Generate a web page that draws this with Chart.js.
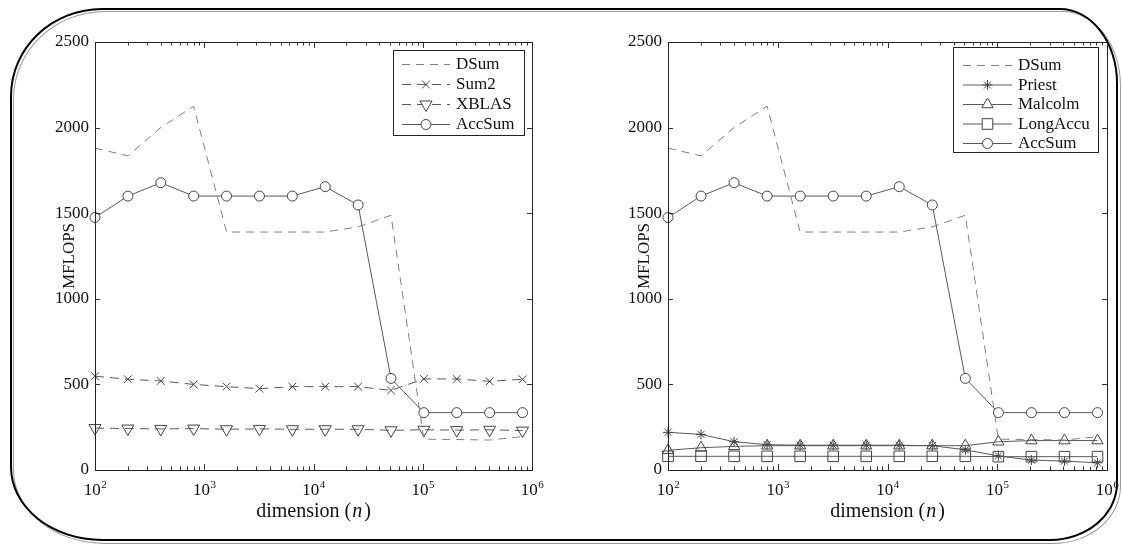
<!DOCTYPE html>
<html><head><meta charset="utf-8">
<script src="https://cdn.jsdelivr.net/npm/chart.js@4.4.1/dist/chart.umd.min.js"></script>
<style>
html,body{margin:0;padding:0;background:#fff;}
#wrap{position:relative;width:1122px;height:544px;overflow:hidden;background:#fff;}
.frame{position:absolute;box-sizing:border-box;border-radius:92px 58px 68px 92px / 88px 75px 58px 74px;}
#f1{left:13px;top:11px;width:1108px;height:533px;border:1.5px solid #9a9a9a;}
#f2{left:10px;top:8px;width:1108px;height:533px;border:2px solid #000;}
canvas{position:absolute;top:0;}
#c1{left:0}
#c2{left:561px}
</style></head>
<body><div id="wrap"><div class="frame" id="f1"></div><div class="frame" id="f2"></div>
<canvas id="c1" width="561" height="544"></canvas><canvas id="c2" width="561" height="544"></canvas></div>
<script>
// ---- data ----
const dimension = [100, 200, 400, 800, 1600, 3200, 6400, 12800, 25600, 51200, 102400, 204800, 409600, 819200];
const DSum     = [1880, 1835, 2000, 2125, 1390, 1390, 1390, 1390, 1420, 1488, 180, 178, 175, 195];
const Sum2     = [548, 530, 520, 500, 487, 475, 487, 487, 487, 465, 532, 532, 518, 530];
const XBLAS    = [245, 242, 240, 242, 238, 240, 238, 238, 238, 232, 235, 233, 235, 230];
const AccSum   = [1475, 1600, 1678, 1600, 1600, 1600, 1600, 1655, 1548, 535, 335, 335, 335, 335];
const Priest   = [220, 208, 165, 148, 145, 145, 145, 145, 142, 118, 82, 58, 52, 42];
const Malcolm  = [115, 130, 138, 142, 142, 142, 142, 142, 142, 142, 165, 172, 172, 172];
const LongAccu = [80, 80, 80, 80, 80, 80, 80, 80, 80, 80, 78, 78, 78, 78];
const xTickExponents = [2, 3, 4, 5, 6];
const yTicks = [0, 500, 1000, 1500, 2000, 2500];
const yTitle = 'MFLOPS';
const xTitleParts = ['dimension (', 'n', ')'];

const SERIF = '"Liberation Serif", "Times New Roman", serif';
const LINE = '#5a5a5a', MARK = '#444';

function pts(arr){ return arr.map((v,i)=>({x:dimension[i], y:v})); }

function ds(label, arr, o){
  return Object.assign({
    label, data: pts(arr), borderColor: LINE, borderWidth: 1, tension: 0,
    pointRadius: 0, pointBorderColor: MARK, pointBackgroundColor: 'rgba(0,0,0,0)',
    pointBorderWidth: 1, fill: false, clip: false, borderDash: []
  }, o);
}
const DASH = [9, 6];
const dsDSum = () => ds('DSum', DSum, {borderColor:'#808080', borderDash:[8,6]});
const dsAcc  = () => ds('AccSum', AccSum, {pointStyle:'circle', pointRadius:5, pointBackgroundColor:'#fff'});

function drawMarker(ctx, style, r, rot, x, y){
  if (!style || r <= 0) return;
  const rad0 = (rot||0) * Math.PI/180;
  ctx.beginPath();
  if (style === 'circle') { ctx.arc(x, y, r, 0, Math.PI*2); ctx.fill(); ctx.stroke(); return; }
  if (style === 'triangle') {
    let a = rad0;
    ctx.moveTo(x + Math.sin(a)*r, y - Math.cos(a)*r); a += 2*Math.PI/3;
    ctx.lineTo(x + Math.sin(a)*r, y - Math.cos(a)*r); a += 2*Math.PI/3;
    ctx.lineTo(x + Math.sin(a)*r, y - Math.cos(a)*r); ctx.closePath(); ctx.fill(); ctx.stroke(); return;
  }
  if (style === 'rect') {
    const s = r * Math.SQRT1_2; ctx.rect(x - s, y - s, 2*s, 2*s); ctx.fill(); ctx.stroke(); return;
  }
  const cross = (a)=>{ for (let k=0;k<2;k++){ const b=a+k*Math.PI/2; ctx.moveTo(x+Math.cos(b)*r, y+Math.sin(b)*r); ctx.lineTo(x-Math.cos(b)*r, y-Math.sin(b)*r);} };
  if (style === 'crossRot') cross(rad0 + Math.PI/4);
  if (style === 'star') { cross(rad0); cross(rad0 + Math.PI/4); }
  ctx.stroke();
}

const decor = {
  id: 'decor',
  afterDatasetsDraw(chart, args, opts){
    const ctx = chart.ctx, a = chart.chartArea, xs = chart.scales.x, ys = chart.scales.y;
    ctx.save();
    // ticks
    ctx.strokeStyle = '#333'; ctx.lineWidth = 1;
    ctx.beginPath();
    for (let e = 2; e <= 6; e++) {
      for (let m = 1; m <= 9; m++) {
        const v = m * Math.pow(10, e);
        if (v < 100 || v > 1e6) continue;
        const px = Math.round(xs.getPixelForValue(v)) + 0.5;
        const L = (m === 1) ? 6 : 3.5;
        ctx.moveTo(px, a.bottom); ctx.lineTo(px, a.bottom - L);
        ctx.moveTo(px, a.top); ctx.lineTo(px, a.top + L);
        if (e === 6) break;
      }
    }
    yTicks.forEach(v => {
      const py = Math.round(ys.getPixelForValue(v)) + 0.5;
      ctx.moveTo(a.left, py); ctx.lineTo(a.left + 5, py);
      ctx.moveTo(a.right, py); ctx.lineTo(a.right - 5, py);
    });
    ctx.stroke();
    // frame
    ctx.strokeStyle = '#222';
    ctx.strokeRect(Math.round(a.left)+0.5, Math.round(a.top)+0.5, Math.round(a.right-a.left), Math.round(a.bottom-a.top));
    // x tick labels
    ctx.fillStyle = '#111'; ctx.textBaseline = 'alphabetic'; ctx.textAlign = 'left';
    xTickExponents.forEach(e => {
      const px = xs.getPixelForValue(Math.pow(10, e));
      ctx.font = '17px ' + SERIF; const w1 = ctx.measureText('10').width;
      ctx.font = '11px ' + SERIF; const w2 = ctx.measureText(String(e)).width;
      const x0 = px - (w1 + w2)/2;
      ctx.font = '17px ' + SERIF; ctx.fillText('10', x0, 495);
      ctx.font = '11px ' + SERIF; ctx.fillText(String(e), x0 + w1 + 0.5, 488);
    });
    // x title
    const fN = '20px ' + SERIF, fI = 'italic 20px ' + SERIF;
    ctx.font = fN; const t0 = ctx.measureText(xTitleParts[0]).width + 1, t2 = ctx.measureText(xTitleParts[2]).width;
    ctx.font = fI; const t1 = ctx.measureText(xTitleParts[1]).width + 2;
    let tx = (a.left + a.right)/2 - (t0 + t1 + t2)/2;
    ctx.font = fN; ctx.fillText(xTitleParts[0], tx, 517); tx += t0;
    ctx.font = fI; ctx.fillText(xTitleParts[1], tx, 517); tx += t1;
    ctx.font = fN; ctx.fillText(xTitleParts[2], tx, 517);
    // legend
    const L = opts;
    ctx.fillStyle = '#fff'; ctx.fillRect(L.x, L.y, L.w, L.h);
    ctx.strokeStyle = '#222'; ctx.lineWidth = 1;
    ctx.strokeRect(L.x + 0.5, L.y + 0.5, L.w, L.h);
    chart.data.datasets.forEach((d, i) => {
      const cy = L.y + L.first + i * L.step;
      ctx.strokeStyle = d.borderColor; ctx.lineWidth = 1;
      ctx.setLineDash(d.borderDash || []);
      ctx.beginPath(); ctx.moveTo(L.x + L.s0, cy + 0.5); ctx.lineTo(L.x + L.s1, cy + 0.5); ctx.stroke();
      ctx.setLineDash([]);
      ctx.strokeStyle = d.pointBorderColor; ctx.fillStyle = d.pointBackgroundColor;
      if (d.pointStyle === 'circle' || d.pointStyle === 'triangle' || d.pointStyle === 'rect') ctx.fillStyle = '#fff';
      drawMarker(ctx, d.pointStyle, d.pointRadius, d.pointRotation || 0, L.x + (L.s0 + L.s1)/2, cy + 0.5);
      ctx.fillStyle = '#111'; ctx.font = '17px ' + SERIF; ctx.textBaseline = 'middle'; ctx.textAlign = 'left';
      ctx.fillText(d.label, L.x + L.tx, cy + 1);
      ctx.textBaseline = 'alphabetic';
    });
    ctx.restore();
  }
};

function makeChart(id, datasets, pad, yWidth, titlePad, legend){
  return new Chart(document.getElementById(id), {
    type: 'line',
    data: { datasets },
    options: {
      responsive: false, animation: false, devicePixelRatio: 1,
      layout: { padding: pad },
      plugins: { legend: { display: false }, tooltip: { enabled: false }, decor: legend },
      scales: {
        x: { type: 'logarithmic', min: 100, max: 1e6,
             ticks: { display: false }, grid: { display: false, drawTicks: false, tickLength: 0 },
             border: { display: false }, afterFit(s){ s.height = 74; } },
        y: { type: 'linear', min: 0, max: 2500,
             afterBuildTicks(s){ s.ticks = yTicks.map(v => ({value: v})); },
             ticks: { stepSize: 500, color: '#111', padding: 6, font: { family: SERIF, size: 17 },
                      callback: (v) => String(v) },
             grid: { display: false, drawTicks: false, tickLength: 0 }, border: { display: false },
             title: { display: true, text: yTitle, color: '#111', padding: {top: titlePad, bottom: 0}, font: { family: SERIF, size: 17 } },
             afterFit(s){ s.width = yWidth; } }
      }
    },
    plugins: [decor]
  });
}

makeChart('c1', [
  dsDSum(),
  ds('Sum2', Sum2, {borderDash: DASH, pointStyle: 'crossRot', pointRadius: 5.5}),
  ds('XBLAS', XBLAS, {borderDash: DASH, pointStyle: 'triangle', pointRotation: 180, pointRadius: 7}),
  dsAcc()
], {left: 48, right: 29, top: 42, bottom: 0}, 47, 11.8,
  {x: 393, y: 50, w: 131, h: 85, first: 14, step: 20, s0: 9, s1: 57, tx: 63});

makeChart('c2', [
  dsDSum(),
  ds('Priest', Priest, {pointStyle: 'star', pointRadius: 5}),
  ds('Malcolm', Malcolm, {pointStyle: 'triangle', pointRadius: 6.5}),
  ds('LongAccu', LongAccu, {pointStyle: 'rect', pointRadius: 7.5}),
  dsAcc()
], {left: 60, right: 15, top: 42, bottom: 0}, 47, 13.8,
  {x: 392, y: 47, w: 145, h: 105, first: 18, step: 19.5, s0: 10, s1: 59, tx: 65});
</script>
</body></html>
